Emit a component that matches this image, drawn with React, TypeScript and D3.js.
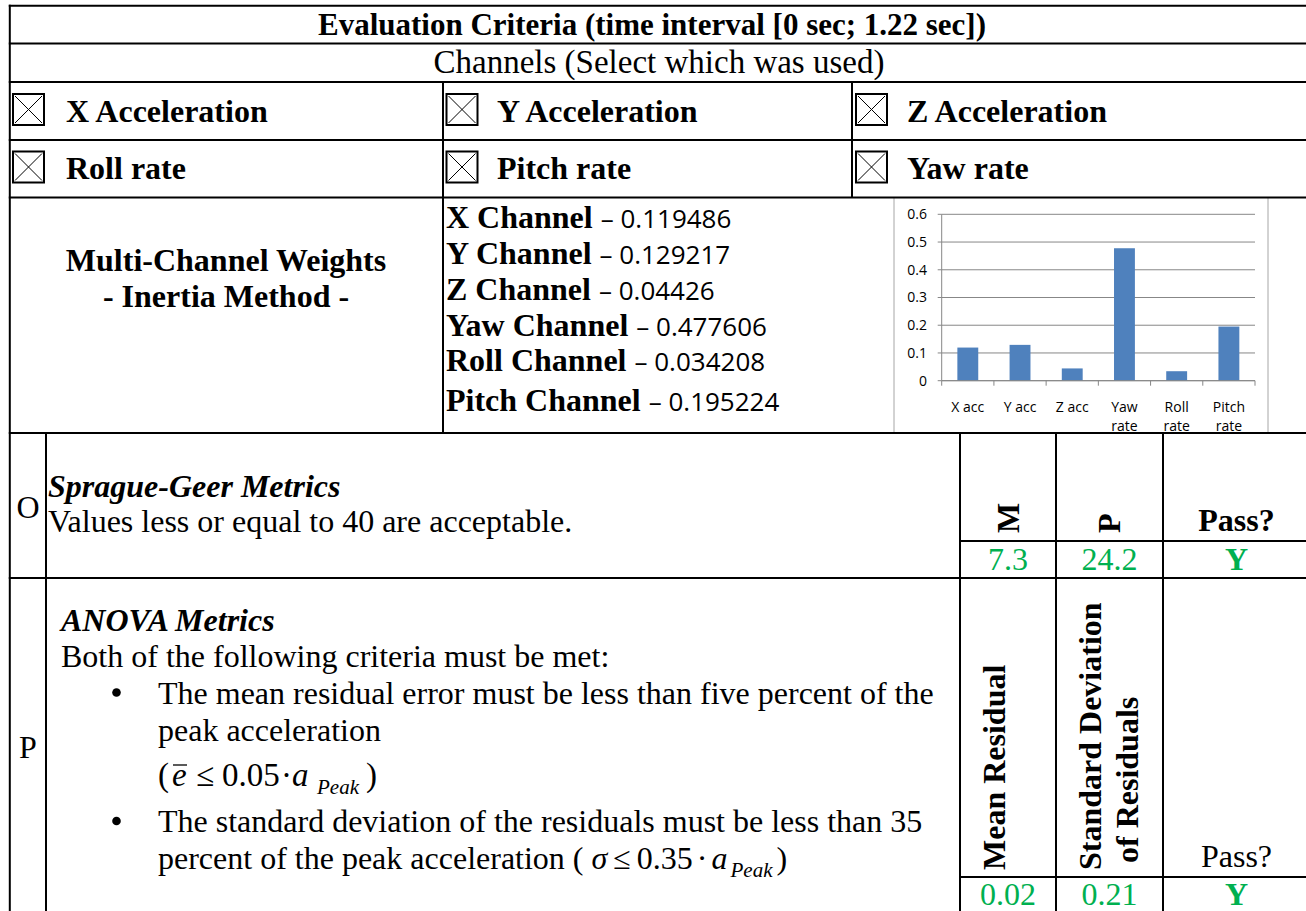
import React from "react";
import * as d3 from "d3";

// ---------- data ----------
const titleText = "Evaluation Criteria (time interval [0 sec; 1.22 sec])";
const channelsText = "Channels (Select which was used)";
const channelRow1 = ["X Acceleration", "Y Acceleration", "Z Acceleration"];
const channelRow2 = ["Roll rate", "Pitch rate", "Yaw rate"];
const weightLabels = ["X Channel", "Y Channel", "Z Channel", "Yaw Channel", "Roll Channel", "Pitch Channel"];
const chartCategories = ["X acc", "Y acc", "Z acc", "Yaw rate", "Roll rate", "Pitch rate"];
const chartWeights = [0.119486, 0.129217, 0.04426, 0.477606, 0.034208, 0.195224];
const yTicks = [0, 0.1, 0.2, 0.3, 0.4, 0.5, 0.6];
const spragueHeaders = ["M", "P"];
const spragueValues = ["7.3", "24.2", "Y"];
const anovaHeaders = ["Mean Residual", "Standard Deviation", "of Residuals"];
const anovaValues = ["0.02", "0.21", "Y"];

// ---------- styles ----------
const SERIF = "'Liberation Serif', 'Times New Roman', serif";
const SANS = "'Open Sans', 'Liberation Sans', sans-serif";
const GREEN = "#00B050";
const BAR = "#4F81BD";
const GRID = "#878787";

const W = 1306;
const H = 911;
const L = 9.8;
const R = 1312;
const rowY = [5.8, 43.5, 82, 140, 197.5, 433, 578];

function CheckBox({ x, y }: { x: number; y: number }) {
  const s = 31;
  return (
    <g stroke="#000" fill="none">
      <rect x={x} y={y} width={s} height={s} strokeWidth={2} />
      <line x1={x + 2} y1={y + 2} x2={x + s - 2} y2={y + s - 2} strokeWidth={1} />
      <line x1={x + s - 2} y1={y + 2} x2={x + 2} y2={y + s - 2} strokeWidth={1} />
    </g>
  );
}

function BarChart() {
  const x = d3
    .scaleBand<string>()
    .domain(chartCategories)
    .range([941.7, 1255])
    .paddingInner(0.6)
    .paddingOuter(0.3);
  const y = d3.scaleLinear().domain([0, 0.6]).range([380.7, 214.3]);
  const step = x.step();
  const boundaries = chartCategories.map((c) => (x(c) as number) - (step - x.bandwidth()) / 2);
  boundaries.push(x.range()[1]);
  return (
    <g>
      <line x1={894} x2={894} y1={197.5} y2={433} stroke="#a6a6a6" strokeWidth={1} />
      <line x1={1268} x2={1268} y1={197.5} y2={433} stroke="#a6a6a6" strokeWidth={1} />
      {yTicks.map((t) => (
        <g key={t}>
          <line x1={x.range()[0]} x2={x.range()[1]} y1={y(t)} y2={y(t)} stroke={GRID} strokeWidth={1} />
          <line x1={x.range()[0] - 4} x2={x.range()[0]} y1={y(t)} y2={y(t)} stroke={GRID} strokeWidth={1} />
          <text
            x={927}
            y={y(t)}
            dy="0.35em"
            textAnchor="end"
            fontFamily={SANS}
            fontSize={14}
            fill="#000"
          >
            {d3.format("")(t)}
          </text>
        </g>
      ))}
      {chartCategories.map((c, i) => (
        <rect
          key={c}
          x={x(c)}
          y={y(chartWeights[i])}
          width={x.bandwidth()}
          height={y(0) - y(chartWeights[i])}
          fill={BAR}
        />
      ))}
      <line x1={x.range()[0]} x2={x.range()[0]} y1={y(0.6)} y2={y(0)} stroke={GRID} strokeWidth={1} />
      <line x1={x.range()[0]} x2={x.range()[1]} y1={y(0)} y2={y(0)} stroke={GRID} strokeWidth={1} />
      {boundaries.map((b, i) => (
        <line key={i} x1={b} x2={b} y1={y(0)} y2={y(0) + 5} stroke={GRID} strokeWidth={1} />
      ))}
      {chartCategories.map((c) => {
        const lines = c.endsWith("rate") ? c.split(" ") : [c];
        const cx = (x(c) as number) + x.bandwidth() / 2;
        return (
          <text key={c} textAnchor="middle" fontFamily={SANS} fontSize={14} fill="#000">
            {lines.map((ln, j) => (
              <tspan key={j} x={cx} y={411.5 + j * 19}>
                {ln}
              </tspan>
            ))}
          </text>
        );
      })}
    </g>
  );
}

export default function App() {
  const colTop = [L, 443, 852];
  const boxX = [13, 446.5, 856];
  const textX = [66, 497, 907];
  const weightBaselines = [228, 264, 300, 336, 371, 411];
  const lowerCols = [46, 960, 1056, 1163];
  const valueCenters = [1008, 1109.5, 1236.5];

  return (
    <svg
      width={W}
      height={H}
      viewBox={`0 0 ${W} ${H}`}
      style={{ position: "absolute", left: 0, top: 0, background: "#fff" }}
    >
      <rect x={0} y={0} width={W} height={H} fill="#fff" />

      {/* chart embedded in weights row */}
      <BarChart />

      {/* title */}
      <text x={652} y={34.5} textAnchor="middle" fontFamily={SERIF} fontWeight="bold" fontSize={31}>
        {titleText}
      </text>
      <text x={659} y={73} textAnchor="middle" fontFamily={SERIF} fontSize={33}>
        {channelsText}
      </text>

      {/* channel check boxes */}
      {[channelRow1, channelRow2].map((row, r) =>
        row.map((label, c) => (
          <g key={`${r}-${c}`}>
            <CheckBox x={boxX[c]} y={r === 0 ? 94 : 151.5} />
            <text
              x={textX[c]}
              y={r === 0 ? 121.5 : 178.5}
              fontFamily={SERIF}
              fontWeight="bold"
              fontSize={32}
            >
              {label}
            </text>
          </g>
        ))
      )}

      {/* weights */}
      <text textAnchor="middle" fontFamily={SERIF} fontWeight="bold" fontSize={32}>
        <tspan x={226} y={271}>Multi-Channel Weights</tspan>
        <tspan x={226} y={307}>- Inertia Method -</tspan>
      </text>
      {weightLabels.map((lab, i) => (
        <text key={lab} x={446} y={weightBaselines[i]} fontSize={32}>
          <tspan fontFamily={SERIF} fontWeight="bold">{lab + " "}</tspan>
          <tspan fontFamily={SANS} fontSize={26}>{"\u2013 " + String(chartWeights[i])}</tspan>
        </text>
      ))}

      {/* Sprague-Geer row */}
      <text x={28} y={518} textAnchor="middle" fontFamily={SERIF} fontSize={32}>O</text>
      <text x={48} y={497} fontFamily={SERIF} fontWeight="bold" fontStyle="italic" fontSize={32}>
        Sprague-Geer Metrics
      </text>
      <text x={48} y={532} fontFamily={SERIF} fontSize={32}>
        Values less or equal to 40 are acceptable.
      </text>
      {spragueHeaders.map((h, i) => (
        <text
          key={h}
          transform={`translate(${valueCenters[i] + 10.5},533) rotate(-90)`}
          fontFamily={SERIF}
          fontWeight="bold"
          fontSize={32}
        >
          {h}
        </text>
      ))}
      <text x={valueCenters[2]} y={531} textAnchor="middle" fontFamily={SERIF} fontWeight="bold" fontSize={32}>
        Pass?
      </text>
      {spragueValues.map((v, i) => (
        <text
          key={i}
          x={valueCenters[i]}
          y={570}
          textAnchor="middle"
          fontFamily={SERIF}
          fontWeight={i === 2 ? "bold" : "normal"}
          fontSize={32}
          fill={GREEN}
        >
          {v}
        </text>
      ))}

      {/* ANOVA row */}
      <text x={28} y={758} textAnchor="middle" fontFamily={SERIF} fontSize={32}>P</text>
      <text x={61} y={630.5} fontFamily={SERIF} fontWeight="bold" fontStyle="italic" fontSize={32}>
        ANOVA Metrics
      </text>
      <text x={61} y={667} fontFamily={SERIF} fontSize={32}>
        Both of the following criteria must be met:
      </text>
      <circle cx={116.5} cy={692.5} r={4.3} fill="#000" />
      <text x={158} y={703.5} fontFamily={SERIF} fontSize={32}>
        The mean residual error must be less than five percent of the
      </text>
      <text x={158} y={741} fontFamily={SERIF} fontSize={32}>
        peak acceleration
      </text>
      {/* formula 1 */}
      <g fontFamily={SERIF} fontSize={33}>
        <text x={158} y={786}>(</text>
        <text x={172} y={786} fontStyle="italic">e</text>
        <line x1={173} x2={187} y1={765} y2={765} stroke="#000" strokeWidth={1.3} />
        <text x={196} y={786}>{"\u2264"}</text>
        <text x={222} y={786}>0.05</text>
        <text x={281} y={786}>{"\u00B7"}</text>
        <text x={292} y={786} fontStyle="italic">a</text>
        <text x={317} y={794} fontStyle="italic" fontSize={21}>Peak</text>
        <text x={366} y={786}>)</text>
      </g>
      <circle cx={116.5} cy={821} r={4.3} fill="#000" />
      <text x={158} y={832} fontFamily={SERIF} fontSize={32}>
        The standard deviation of the residuals must be less than 35
      </text>
      <text x={158} y={869} fontFamily={SERIF} fontSize={32}>
        <tspan>percent of the peak acceleration (</tspan>
        <tspan fontStyle="italic" dx={8}>{"\u03C3"}</tspan>
        <tspan dx={6}>{"\u2264"}</tspan>
        <tspan dx={6}>0.35</tspan>
        <tspan dx={4}>{"\u00B7"}</tspan>
        <tspan dx={4} fontStyle="italic">a</tspan>
        <tspan dy={8} dx={3} fontStyle="italic" fontSize={21}>Peak</tspan>
        <tspan dy={-8} dx={4}>)</tspan>
      </text>

      <text transform="translate(1005,870) rotate(-90)" fontFamily={SERIF} fontWeight="bold" fontSize={32}>
        {anovaHeaders[0]}
      </text>
      <text transform="translate(1101,870) rotate(-90)" fontFamily={SERIF} fontWeight="bold" fontSize={32}>
        {anovaHeaders[1]}
      </text>
      <text transform="translate(1138,863) rotate(-90)" fontFamily={SERIF} fontWeight="bold" fontSize={32}>
        {anovaHeaders[2]}
      </text>
      <text x={valueCenters[2]} y={866.5} textAnchor="middle" fontFamily={SERIF} fontSize={32}>
        Pass?
      </text>
      {anovaValues.map((v, i) => (
        <text
          key={i}
          x={valueCenters[i]}
          y={905}
          textAnchor="middle"
          fontFamily={SERIF}
          fontWeight={i === 2 ? "bold" : "normal"}
          fontSize={32}
          fill={GREEN}
        >
          {v}
        </text>
      ))}

      {/* table grid */}
      <g stroke="#000" strokeWidth={2}>
        {rowY.map((yy, i) => (
          <line key={i} x1={L - 1} x2={R} y1={yy} y2={yy} />
        ))}
        <line x1={L} x2={L} y1={rowY[0] - 1} y2={H + 5} />
        {colTop.slice(1).map((cx) => (
          <line key={cx} x1={cx} x2={cx} y1={rowY[2]} y2={rowY[4]} />
        ))}
        <line x1={443} x2={443} y1={rowY[4]} y2={rowY[5]} />
        {lowerCols.map((cx) => (
          <line key={cx} x1={cx} x2={cx} y1={rowY[5]} y2={H + 5} />
        ))}
        <line x1={960} x2={R} y1={541} y2={541} />
        <line x1={960} x2={R} y1={877} y2={877} />
      </g>
    </svg>
  );
}
